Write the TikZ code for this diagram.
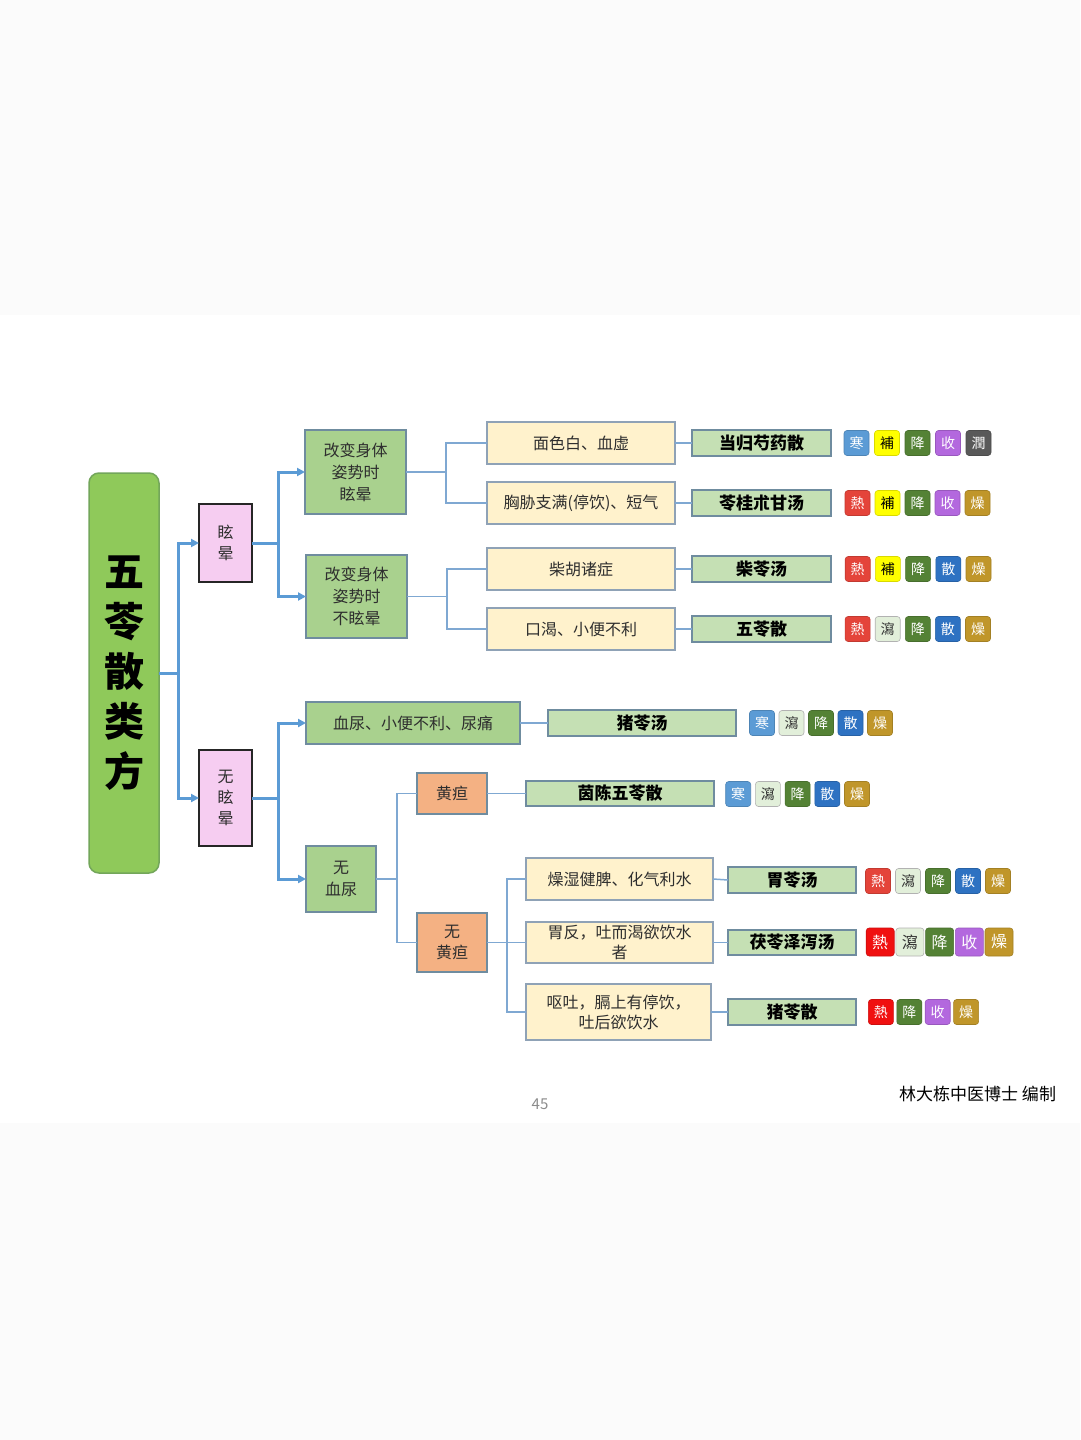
\documentclass[tikz,border=0pt]{standalone}
\usepackage{fontspec}
\setmainfont{Noto Sans CJK SC}
\usepackage{tikz}
\usetikzlibrary{positioning, arrows.meta}
\usepackage{xcolor}

\definecolor{pagegray}{HTML}{FBFBFB}
\definecolor{txtgray}{HTML}{2E2E2E}
\definecolor{linkblue}{HTML}{5B9BD5}
\definecolor{thinblue}{HTML}{7FA8D2}
\definecolor{rootgreen}{HTML}{8FC95A}
\definecolor{rootedge}{HTML}{73A65A}
\definecolor{pinkfill}{HTML}{F6CDF1}
\definecolor{condgreen}{HTML}{A9D18E}
\definecolor{slateedge}{HTML}{6F8C9F}
\definecolor{signyellow}{HTML}{FFF2CC}
\definecolor{signedge}{HTML}{8FA2B6}
\definecolor{jorange}{HTML}{F4B183}
\definecolor{rxgreen}{HTML}{C5E0B4}
\definecolor{tagcold}{HTML}{5B9BD5}
\definecolor{tagbu}{HTML}{FFFF00}
\definecolor{tagjiang}{HTML}{548235}
\definecolor{tagshou}{HTML}{B368DE}
\definecolor{tagrun}{HTML}{595959}
\definecolor{tagre}{HTML}{E4443A}
\definecolor{tagrebright}{HTML}{F01010}
\definecolor{tagsan}{HTML}{2E72C2}
\definecolor{tagzao}{HTML}{C0962A}
\definecolor{tagxie}{HTML}{E2EFDA}

\begin{document}
\begin{tikzpicture}[x=1pt, y=-1pt,
    every node/.style={inner sep=0pt, outer sep=0pt},
    rootbox/.style={draw=rootedge, fill=rootgreen, line width=1.5pt, rounded corners=10pt,
        minimum width=70pt, minimum height=400pt, align=center,
        font=\bfseries\fontsize{40}{50}\selectfont},
    symbox/.style={draw=black!85, fill=pinkfill, line width=1.5pt, minimum width=53pt,
        align=center, text=txtgray, font=\fontsize{16}{21}\selectfont},
    condbox/.style={draw=slateedge, fill=condgreen, line width=1.5pt, align=center,
        text=txtgray, font=\fontsize{16}{22}\selectfont},
    signbox/.style={draw=signedge, fill=signyellow, line width=1.5pt, align=center,
        text=txtgray, font=\fontsize{16}{20}\selectfont},
    jbox/.style={draw=slateedge, fill=jorange, line width=1.5pt, minimum width=70pt,
        align=center, text=txtgray, font=\fontsize{16}{21}\selectfont},
    rxbox/.style={draw=slateedge, fill=rxgreen, line width=1.5pt, minimum height=26pt,
        font=\bfseries\fontsize{17}{17}\selectfont},
    thickline/.style={draw=linkblue, line width=3pt},
    arrowline/.style={thickline, -{Triangle[length=8pt,width=8pt]}},
    thinline/.style={draw=thinblue, line width=1.5pt},
    tag/.style={fill=#1, draw=#1!85!black, line width=0.6pt, rounded corners=3pt,
        minimum size=25pt, text=white, font=\fontsize{14}{14}\selectfont},
    tHan/.style={tag=tagcold},
    tBu/.style={tag=tagbu, text=black},
    tJiang/.style={tag=tagjiang},
    tShou/.style={tag=tagshou},
    tRun/.style={tag=tagrun},
    tRe/.style={tag=tagre},
    tReB/.style={tag=tagrebright},
    tSan/.style={tag=tagsan},
    tZao/.style={tag=tagzao},
    tXie/.style={tag=tagxie, draw=black!30, text=black!80}]

    % page
    \useasboundingbox (0,0) rectangle (1080,1440);
    \fill[pagegray] (0,0) rectangle (1080,1440);
    \fill[white] (0,315) rectangle (1080,1123);

    % root and first split
    \node[rootbox] (root) at (124,673) {五\\苓\\散\\类\\方};
    \node[symbox, minimum height=78pt] (xuan) at (225.5,543) {眩\\晕};
    \node[symbox, minimum height=96pt] (wuxuan) at (225.5,798) {无\\眩\\晕};

    % dizzy branch
    \node[condbox, minimum width=101pt, minimum height=84pt] (pos1) at (355.5,472)
        {改变身体\\姿势时\\眩晕};
    \node[condbox, minimum width=101pt, minimum height=83pt] (pos2) at (356.5,596.5)
        {改变身体\\姿势时\\不眩晕};

    \node[signbox, minimum width=188pt, minimum height=42pt] (s1) at (581,443) {面色白、血虚};
    \node[signbox, minimum width=188pt, minimum height=42pt] (s2) at (581,503) {胸胁支满(停饮)、短气};
    \node[signbox, minimum width=188pt, minimum height=42pt] (s3) at (581,569) {柴胡诸症};
    \node[signbox, minimum width=188pt, minimum height=42pt] (s4) at (581,629) {口渴、小便不利};

    \node[rxbox, minimum width=139pt] (f1) at (761.5,443) {当归芍药散};
    \node[rxbox, minimum width=139pt] (f2) at (761.5,503) {苓桂朮甘汤};
    \node[rxbox, minimum width=139pt] (f3) at (761.5,569) {柴苓汤};
    \node[rxbox, minimum width=139pt] (f4) at (761.5,629) {五苓散};

    % not dizzy branch
    \node[condbox, minimum width=214pt, minimum height=42pt] (hn) at (413,723) {血尿、小便不利、尿痛};
    \node[rxbox, minimum width=188pt] (f5) at (642,723) {猪苓汤};
    \node[condbox, minimum width=70pt, minimum height=66pt] (whn) at (341,879) {无\\血尿};

    \node[jbox, minimum height=41pt] (hd) at (452,793.5) {黄疸};
    \node[jbox, minimum height=59pt] (whd) at (452,942.5) {无\\黄疸};
    \node[rxbox, minimum width=188pt, minimum height=25pt] (f6) at (620,793.5) {茵陈五苓散};

    \node[signbox, minimum width=187pt, minimum height=42pt] (s5) at (619.5,879) {燥湿健脾、化气利水};
    \node[signbox, minimum width=187pt, minimum height=41pt] (s6) at (619.5,942.5) {胃反，吐而渴欲饮水\\者};
    \node[signbox, minimum width=185pt, minimum height=56pt] (s7) at (618.5,1012) {呕吐，膈上有停饮，\\吐后欲饮水};

    \node[rxbox, minimum width=128pt] (f7) at (792,880) {胃苓汤};
    \node[rxbox, minimum width=128pt, minimum height=25pt] (f8) at (792,942.5) {茯苓泽泻汤};
    \node[rxbox, minimum width=128pt] (f9) at (792,1012) {猪苓散};

    % junctions
    \coordinate (j0) at (178,673);
    \coordinate (j1) at (278,543);
    \coordinate (j2) at (278,798);
    \coordinate (j3) at (446,472);
    \coordinate (j4) at (447,596.5);
    \coordinate (j5) at (397,879);
    \coordinate (j6) at (507,942.5);

    % thick arrows
    \draw[thickline] (root.east) -- (j0);
    \draw[arrowline] (j0) |- (xuan.west);
    \draw[arrowline] (j0) |- (wuxuan.west);
    \draw[thickline] (xuan.east) -- (j1);
    \draw[arrowline] (j1) |- (pos1.west);
    \draw[arrowline] (j1) |- (pos2.west);
    \draw[thickline] (wuxuan.east) -- (j2);
    \draw[arrowline] (j2) |- (hn.west);
    \draw[arrowline] (j2) |- (whn.west);

    % thin connectors
    \draw[thinline] (pos1.east) -- (j3);
    \draw[thinline] (j3) |- (s1.west);
    \draw[thinline] (j3) |- (s2.west);
    \draw[thinline] (pos2.east) -- (j4);
    \draw[thinline] (j4) |- (s3.west);
    \draw[thinline] (j4) |- (s4.west);
    \draw[thinline] (s1.east) -- (f1.west);
    \draw[thinline] (s2.east) -- (f2.west);
    \draw[thinline] (s3.east) -- (f3.west);
    \draw[thinline] (s4.east) -- (f4.west);
    \draw[thinline] (hn.east) -- (f5.west);
    \draw[thinline] (whn.east) -- (j5);
    \draw[thinline] (j5) |- (hd.west);
    \draw[thinline] (j5) |- (whd.west);
    \draw[thinline] (hd.east) -- (f6.west);
    \draw[thinline] (whd.east) -- (j6);
    \draw[thinline] (j6) |- (s5.west);
    \draw[thinline] (j6) |- (s6.west);
    \draw[thinline] (j6) |- (s7.west);
    \draw[thinline] (s5.east) -- (f7.west);
    \draw[thinline] (s6.east) -- (f8.west);
    \draw[thinline] (s7.east) -- (f9.west);

    % property tags
    \foreach \t/\s [count=\i] in {寒/tHan,補/tBu,降/tJiang,收/tShou,潤/tRun}
        \node[\s] (ta\i) at (826+30.5*\i,443) {\t};
    \foreach \t/\s [count=\i] in {熱/tRe,補/tBu,降/tJiang,收/tShou,燥/tZao}
        \node[\s] (tb\i) at (827.5+30*\i,503) {\t};
    \foreach \t/\s [count=\i] in {熱/tRe,補/tBu,降/tJiang,散/tSan,燥/tZao}
        \node[\s] (tc\i) at (827.5+30.2*\i,569) {\t};
    \foreach \t/\s [count=\i] in {熱/tRe,瀉/tXie,降/tJiang,散/tSan,燥/tZao}
        \node[\s] (td\i) at (827.5+30.1*\i,629) {\t};
    \foreach \t/\s [count=\i] in {寒/tHan,瀉/tXie,降/tJiang,散/tSan,燥/tZao}
        \node[\s] (te\i) at (732.5+29.5*\i,723) {\t};
    \foreach \t/\s [count=\i] in {寒/tHan,瀉/tXie,降/tJiang,散/tSan,燥/tZao}
        \node[\s] (tf\i) at (708.5+29.7*\i,794) {\t};
    \foreach \t/\s [count=\i] in {熱/tRe,瀉/tXie,降/tJiang,散/tSan,燥/tZao}
        \node[\s] (tg\i) at (848+30*\i,881) {\t};
    \foreach \t/\s [count=\i] in {熱/tReB,瀉/tXie,降/tJiang,收/tShou,燥/tZao}
        \node[\s, minimum size=28pt, font=\fontsize{16}{16}\selectfont] (th\i) at (850.5+29.7*\i,942) {\t};
    \foreach \t/\s [count=\i] in {熱/tReB,降/tJiang,收/tShou,燥/tZao}
        \node[\s] (tk\i) at (852.5+28.4*\i,1012) {\t};

    % footer
    \node[text=black!45, font=\fontsize{15}{15}\selectfont] (page) at (540,1104) {45};
    \node[anchor=east, font=\fontsize{17}{17}\selectfont] (author) at (1056,1094) {林大栋中医博士 编制};
\end{tikzpicture}
\end{document}
